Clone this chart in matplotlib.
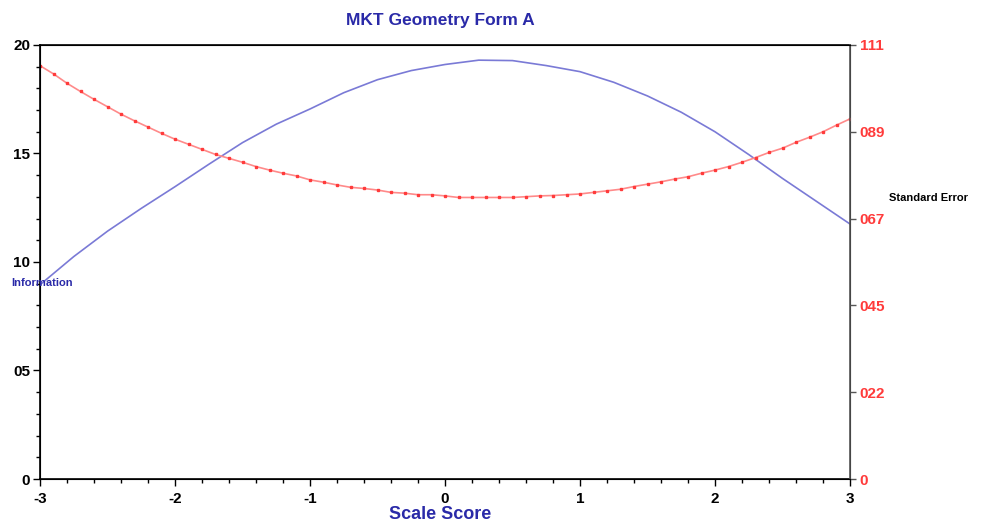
import matplotlib
matplotlib.use("Agg")
import matplotlib.pyplot as plt
from matplotlib.ticker import MultipleLocator, FixedLocator, FixedFormatter

plt.rcParams['font.family'] = ['Liberation Sans', 'DejaVu Sans']
plt.rcParams['font.weight'] = 'bold'

# Information curve (left axis)
info_x = [-3.0, -2.75, -2.5, -2.25, -2.0, -1.75, -1.5, -1.25, -1.0, -0.75, -0.5, -0.25,
          0.0, 0.25, 0.5, 0.75, 1.0, 1.25, 1.5, 1.75, 2.0, 2.25, 2.5, 2.75, 3.0]
info_y = [8.95, 10.25, 11.42, 12.47, 13.47, 14.5, 15.5, 16.35, 17.05, 17.8, 18.4, 18.82,
          19.1, 19.3, 19.28, 19.05, 18.77, 18.28, 17.65, 16.9, 16.0, 14.95, 13.85, 12.8, 11.75]

# Standard error curve (right axis), one point every 0.1
se_x = [round(-3.0 + 0.1 * i, 1) for i in range(61)]
se_y = [1.057, 1.036, 1.012, 0.991, 0.971, 0.952, 0.933, 0.916, 0.900, 0.884,
        0.869, 0.856, 0.843, 0.830, 0.820, 0.810, 0.799, 0.790, 0.782, 0.775,
        0.765, 0.759, 0.752, 0.746, 0.743, 0.739, 0.733, 0.731, 0.727, 0.727,
        0.724, 0.720, 0.720, 0.720, 0.720, 0.720, 0.722, 0.724, 0.725, 0.727,
        0.729, 0.733, 0.737, 0.741, 0.748, 0.754, 0.760, 0.767, 0.773, 0.782,
        0.790, 0.799, 0.810, 0.822, 0.835, 0.846, 0.861, 0.874, 0.888, 0.905,
        0.921]

left_ticks = [0, 5, 10, 15, 20]
left_labels = ["0", "05", "10", "15", "20"]
right_ticks = [0, 0.222, 0.444, 0.666, 0.888, 1.11]
right_labels = ["0", "022", "045", "067", "089", "111"]
x_ticks = [-3, -2, -1, 0, 1, 2, 3]
x_labels = ["-3", "-2", "-1", "0", "1", "2", "3"]

blue = "#7a7ad6"
dark_blue = "#2a2aa8"
red = "#ff3b3b"

fig = plt.figure(figsize=(9.93, 5.29), dpi=100)
ax = fig.add_axes([0.0403, 0.0945, 0.8157, 0.8205])
ax2 = ax.twinx()

ax.plot(info_x, info_y, color=blue, lw=1.2)
ax2.plot(se_x, se_y, color="#ff8a8a", lw=1.2, marker="s", markersize=2,
         markerfacecolor=red, markeredgecolor=red)

ax.set_xlim(-3, 3)
ax.set_ylim(0, 20)
ax2.set_ylim(0, 1.11)

ax.xaxis.set_major_locator(FixedLocator(x_ticks))
ax.xaxis.set_major_formatter(FixedFormatter(x_labels))
ax.xaxis.set_minor_locator(MultipleLocator(0.2))
ax.yaxis.set_major_locator(FixedLocator(left_ticks))
ax.yaxis.set_major_formatter(FixedFormatter(left_labels))
ax.yaxis.set_minor_locator(MultipleLocator(1))
ax2.yaxis.set_major_locator(FixedLocator(right_ticks))
ax2.yaxis.set_major_formatter(FixedFormatter(right_labels))

ax.tick_params(axis="both", which="major", length=5, width=1, labelsize=11, pad=2)
ax.tick_params(axis="x", which="major", pad=4)
ax.tick_params(axis="both", which="minor", length=3, width=1)
ax2.tick_params(axis="y", which="major", length=4, width=1, labelsize=11,
                labelcolor=red, color="#555555", pad=3)

for sp in ["left", "bottom", "top"]:
    ax.spines[sp].set_linewidth(1.2)
ax2.spines["right"].set_color("#555555")
ax2.spines["right"].set_linewidth(1.2)

fig.text(0.443, 0.962, "MKT Geometry Form A", color=dark_blue, fontsize=12.5,
         fontweight="bold", ha="center", va="center")
fig.text(0.443, 0.012, "Scale Score", color=dark_blue, fontsize=13,
         fontweight="bold", ha="center", va="bottom")
fig.text(0.011, 0.465, "Information", color=dark_blue, fontsize=8,
         fontweight="bold", ha="left", va="center")
fig.text(0.895, 0.625, "Standard Error", color="black", fontsize=8,
         fontweight="bold", ha="left", va="center")

fig.savefig("out.png", dpi=100)
